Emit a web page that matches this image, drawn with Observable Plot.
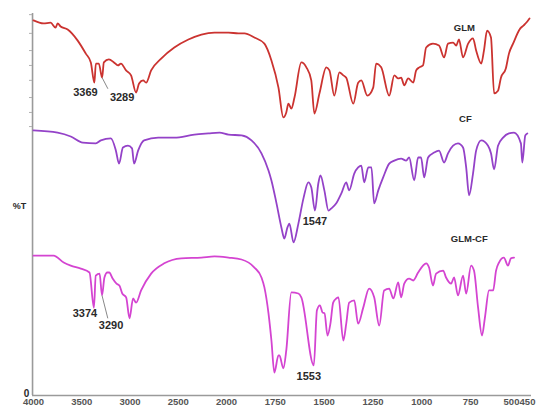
<!DOCTYPE html>
<html>
<head>
<meta charset="utf-8">
<script src="https://cdn.jsdelivr.net/npm/d3@7"></script>
<script src="https://cdn.jsdelivr.net/npm/@observablehq/plot@0.6"></script>
<style>
  body { margin: 0; background: #fff; }
  svg { display: block; }
</style>
</head>
<body>
<div id="chart"></div>
<script>
// FTIR spectra, stacked on one %T axis (wavenumber in cm⁻¹).
const glmWn = [4000,3896,3823,3771,3750,3719,3646,3542,3458,3406,3369,3354,3323,3289,3271,3219,3166,3125,3094,3041,2989,2937,2906,2864,2833,2781,2677,2541,2395,2260,2124,1990,1939,1908,1857,1806,1770,1734,1709,1694,1683,1668,1652,1617,1591,1566,1550,1524,1489,1473,1448,1422,1402,1387,1351,1326,1310,1279,1249,1234,1208,1167,1141,1121,1106,1090,1070,1044,1029,1013,994,978,943,912,886,866,840,824,810,789,763,738,722,696,682,666,646,630,610,595,570,554,533,496,479,461,450];
const glmT  = [98.2,97.4,97.6,96.3,97.4,96.6,95.8,92.9,89.5,87.2,81.9,86.9,86.9,83.2,87.2,88.0,87.2,86.4,86.9,85.1,83.8,79.3,81.7,82.5,81.9,85.1,88.2,91.1,93.2,94.5,95.0,95.0,94.8,94.8,93.7,92.1,87.7,80.6,72.8,74.1,76.4,75.1,78.0,87.2,85.9,82.5,73.8,79.1,85.9,85.1,78.5,84.6,83.8,83.2,76.4,81.9,82.5,78.5,80.6,86.9,85.9,78.5,83.8,83.0,83.2,81.2,83.0,81.9,85.1,85.9,86.4,91.1,92.1,91.6,88.5,92.1,92.4,91.6,93.2,88.5,92.1,93.5,90.3,86.9,90.3,95.5,93.7,79.1,79.8,83.2,85.6,89.5,92.1,96.1,96.9,97.9,98.7];

const cfWn = [4000,3750,3614,3489,3354,3302,3198,3146,3114,3073,3021,2979,2958,2916,2854,2708,2541,2333,2187,2072,1990,1923,1872,1821,1785,1770,1744,1719,1704,1688,1678,1657,1632,1606,1581,1566,1547,1530,1519,1499,1478,1463,1438,1412,1387,1372,1346,1326,1310,1295,1274,1258,1244,1223,1198,1167,1141,1106,1080,1065,1039,1019,1004,988,968,937,912,886,866,840,815,789,773,758,738,722,696,661,646,630,610,584,554,528,493,486,471,461];
const cfT  = [69.4,68.8,67.8,66.2,66.0,66.8,67.3,64.1,60.7,64.9,65.4,64.7,60.7,64.1,66.8,67.5,67.5,68.3,68.6,68.8,68.3,68.1,66.8,63.4,58.9,56.3,50.3,44.0,41.1,44.0,45.0,40.1,45.0,51.6,55.8,54.5,48.4,55.5,57.6,53.7,48.4,49.0,50.3,52.9,55.8,53.7,58.1,59.7,60.2,55.8,59.7,59.7,50.3,53.7,57.1,60.7,61.5,62.0,61.5,62.3,56.3,62.3,62.3,57.1,62.3,63.6,64.1,61.0,63.4,65.4,66.0,64.9,59.7,52.4,58.1,64.1,66.8,65.4,63.4,59.2,65.4,67.5,68.6,68.8,66.0,61.0,68.1,68.6];

const glmcfWn = [4000,3792,3687,3614,3510,3420,3374,3355,3315,3290,3265,3235,3215,3180,3140,3110,3080,3040,3005,2968,2937,2885,2781,2645,2468,2260,2124,1990,1923,1857,1821,1806,1785,1770,1755,1734,1729,1709,1694,1668,1632,1617,1553,1537,1522,1508,1498,1483,1468,1454,1438,1427,1402,1387,1372,1346,1326,1300,1270,1244,1218,1193,1167,1146,1121,1106,1090,1065,1044,1019,994,978,963,943,927,891,876,850,835,815,789,773,748,733,712,692,677,656,635,620,605,580,559,544,528];
const glmcfT  = [36.6,36.6,34.8,34.0,33.2,32.2,23.0,31.4,31.9,26.2,30.9,32.2,32.2,30.6,29.3,28.8,26.7,25.7,20.2,25.4,24.3,27.5,31.9,34.6,35.9,36.1,36.4,36.1,35.6,33.5,30.9,28.3,21.5,14.4,6.0,10.5,10.5,7.1,11.8,27.0,26.7,25.7,7.9,22.3,23.6,21.7,21.5,15.7,18.8,24.3,25.4,25.7,14.4,18.8,24.3,24.9,18.8,23.0,28.0,25.7,18.3,27.5,28.0,25.4,29.6,25.7,29.3,30.6,30.1,32.2,34.0,34.6,33.5,28.8,31.9,32.7,30.9,29.3,30.9,26.2,31.4,26.7,34.0,32.7,23.0,15.7,20.4,27.5,27.5,32.7,34.8,36.1,34.0,35.9,36.1];

const seriesNames  = ["GLM", "CF", "GLM-CF"];
const seriesColors = ["#cb3330", "#9442c8", "#d444d1"];

const xTicks = [4000, 3500, 3000, 2500, 2000, 1750, 1500, 1250, 1000, 750, 500, 450];
const yTicks = [99.7, 94.8, 90.3, 86.4, 82.5, 78.0, 74.1, 70.4];

// Labelled band positions
const peakSeries = ["GLM", "GLM", "CF", "GLM-CF", "GLM-CF", "GLM-CF"];
const peakWn     = [3369, 3289, 1547, 3374, 3290, 1553];

const toRows = (name, wn, t) => wn.map((w, i) => ({series: name, wn: w, t: t[i]}));
const spectra = [
  ...toRows("GLM", glmWn, glmT),
  ...toRows("CF", cfWn, cfT),
  ...toRows("GLM-CF", glmcfWn, glmcfT)
];
const peaks = peakWn.map((w, i) => {
  const p = spectra.find(d => d.series === peakSeries[i] && d.wn === w);
  return {series: p.series, wn: w, t: p.t, label: String(w)};
});
// label offsets (px) for each band number
const offsets = [[-9, 10], [20, 20], [0, 11], [-9, 6], [9, 30], [-5, 11]];

const font = "Liberation Sans, Arial, sans-serif";
const labelStyle = {fontFamily: font, fontWeight: "bold", fill: "#2a2a2a"};
const tickStyle = {fontFamily: font, fontWeight: "bold", fill: "#555", fontSize: 9.5};

const peakLabels = peaks.map((p, i) =>
  Plot.text([p], {x: "wn", y: "t", text: "label", dx: offsets[i][0], dy: offsets[i][1], fontSize: 11, ...labelStyle})
);

const chart = Plot.plot({
  width: 536,
  height: 406,
  marginLeft: 32,
  marginRight: 4,
  marginTop: 13,
  marginBottom: 11,
  style: {fontFamily: font, background: "#fff"},
  x: {
    type: "linear",
    domain: [4000, 2000, 500, 450],
    range: [33, 226, 519, 529]
  },
  y: {domain: [0, 100], label: null},
  color: {domain: seriesNames, range: seriesColors},
  marks: [
    // axis frame
    Plot.ruleX([4010], {y1: 0, y2: 100, stroke: "#9a9a9a", strokeWidth: 1.6}),
    Plot.ruleY([0], {x1: 4010, x2: 440, stroke: "#9a9a9a", strokeWidth: 1.6}),
    Plot.axisY({ticks: yTicks, tickSize: 3, tickFormat: () => "", stroke: "#b0b0b0", label: null}),
    Plot.axisX({ticks: xTicks, tickSize: 0, tickPadding: 3, ...tickStyle,
      tickFormat: d => (d === 500 || d === 450) ? "" : d3.format("d")(d), label: null}),
    // the two closely spaced end ticks share one run of text
    Plot.text([500], {x: d => d, y: 0, text: d => String(d), dx: -8, dy: 3, lineAnchor: "top", ...tickStyle}),
    Plot.text([450], {x: d => d, y: 0, text: d => String(d), dx: -2, dy: 3, lineAnchor: "top", ...tickStyle}),
    Plot.text(["0"], {frameAnchor: "bottom-left", textAnchor: "middle", dx: -6, dy: 1, fontSize: 10, ...labelStyle}),
    Plot.text(["%T"], {frameAnchor: "left", textAnchor: "middle", dx: -13, dy: 2, fontSize: 9, ...labelStyle}),

    // spectra
    Plot.line(spectra, {x: "wn", y: "t", z: "series", stroke: "series", strokeWidth: 1.8, curve: "monotone-x"}),

    // leader lines to band numbers
    Plot.link([peaks[1], peaks[4]], {
      x1: "wn", y1: "t",
      x2: d => d.wn - 60, y2: d => d.t - (d.series === "GLM" ? 2.9 : 6),
      stroke: "#888", strokeWidth: 1
    }),
    ...peakLabels,

    // sample names
    Plot.text(["GLM"], {x: 782, y: 96.3, fontSize: 9.5, ...labelStyle}),
    Plot.text(["CF"], {x: 777, y: 72.3, fontSize: 9.5, ...labelStyle}),
    Plot.text(["GLM-CF"], {x: 757, y: 41.1, fontSize: 9.5, ...labelStyle})
  ]
});

document.getElementById("chart").appendChild(chart);
</script>
</body>
</html>
